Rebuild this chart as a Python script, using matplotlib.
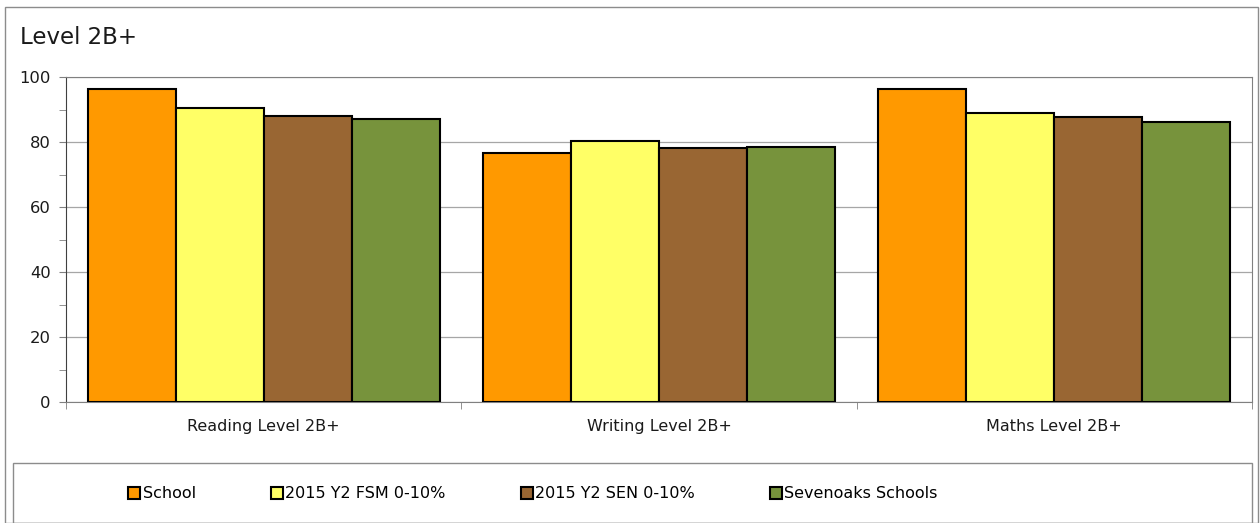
import matplotlib
matplotlib.use("Agg")
import matplotlib.pyplot as plt
from matplotlib.patches import Rectangle, Patch
import numpy as np

plt.rcParams['font.family'] = ['DejaVu Sans']

categories = ["Reading Level 2B+", "Writing Level 2B+", "Maths Level 2B+"]
series_names = ["School", "2015 Y2 FSM 0-10%", "2015 Y2 SEN 0-10%", "Sevenoaks Schools"]
school = [96.2, 76.7, 96.2]
fsm = [90.4, 80.4, 88.8]
sen = [88.0, 78.2, 87.6]
sevenoaks = [87.2, 78.5, 86.1]
colors = ["#FF9900", "#FFFF66", "#996633", "#77933C"]
title = "Level 2B+"

W, H = 1260, 523
fig = plt.figure(figsize=(W/100, H/100), dpi=100)

# outer chart border
fig.patches.append(Rectangle((5/W, 0), (1258-5)/W, 1-7/H, transform=fig.transFigure,
                             fill=False, edgecolor="#8C8C8C", linewidth=1.0))

ax = fig.add_axes([66/W, 1-402/H, (1252-66)/W, (402-77)/H])
x = np.arange(len(categories))
bw = 0.2225
data = [school, fsm, sen, sevenoaks]
for i, (vals, c, name) in enumerate(zip(data, colors, series_names)):
    ax.bar(x + (i-1.5)*bw, vals, width=bw, color=c, edgecolor="black",
           linewidth=1.5, label=name, zorder=3)

ax.set_xlim(-0.5, len(categories)-0.5)
ax.set_ylim(0, 100)
ax.set_yticks(range(0, 101, 20))
ax.set_yticks(range(10, 100, 20), minor=True)
ax.grid(axis='y', which='major', color="#A6A6A6", linewidth=0.9, zorder=0)
ax.set_xticks(x)
ax.set_xticklabels(categories, fontsize=11.5, color="#1a1a1a")
ax.set_xticks(np.arange(-0.5, len(categories), 1), minor=True)
ax.tick_params(axis='x', which='major', length=0, pad=12)
ax.tick_params(axis='x', which='minor', length=5, color="#808080")
ax.tick_params(axis='y', which='both', length=5, color="#808080", labelsize=11.8,
               labelcolor="#1a1a1a", pad=6)
for s in ["top", "right", "bottom"]:
    ax.spines[s].set_color("#808080")
ax.spines["left"].set_color("#404040")

fig.text(20/W, 1-37/H, title, fontsize=16.5, va="center", ha="left", color="#1a1a1a")

# legend box
fig.patches.append(Rectangle((13/W, 0), (1252-13)/W, 1-463/H, transform=fig.transFigure,
                             fill=False, edgecolor="#8C8C8C", linewidth=1.0))
handles = [Patch(facecolor=c, edgecolor="black", linewidth=1.5) for c in colors]
fig.legend(handles, series_names, ncol=4, loc="center", bbox_to_anchor=(533/W, 1-494/H),
           frameon=False, fontsize=11.5, handlelength=0.75, handleheight=0.75,
           handletextpad=0.15, columnspacing=4.7)

fig.savefig("out.png", dpi=100)
